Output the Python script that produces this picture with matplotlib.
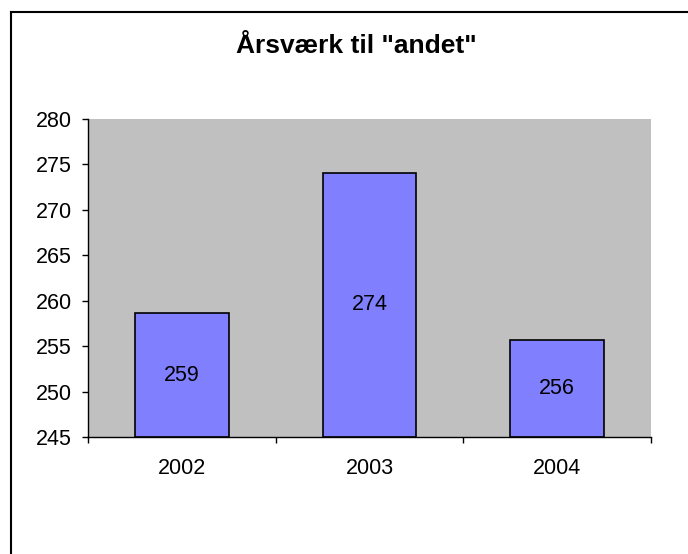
import matplotlib
matplotlib.use('Agg')
import matplotlib.pyplot as plt
from matplotlib.lines import Line2D

plt.rcParams['font.family'] = ['Liberation Sans', 'DejaVu Sans']

# data
years = ['2002', '2003', '2004']
values = [258.6, 274.1, 255.7]
labels = ['259', '274', '256']
title = 'Årsværk til "andet"'
y_min, y_max, y_step = 245, 280, 5

W, H = 688, 554
fig = plt.figure(figsize=(W / 100, H / 100), dpi=100)
fig.patch.set_facecolor('white')

# chart frame (runs off the right and bottom edge)
fx0 = 11 / W
fy1 = 1 - 12 / H
fig.add_artist(Line2D([fx0, 1.02], [fy1, fy1], color='black', lw=1.5, transform=fig.transFigure))
fig.add_artist(Line2D([fx0, fx0], [-0.02, fy1], color='black', lw=1.5, transform=fig.transFigure))

ax = fig.add_axes([88 / W, 1 - 437 / H, (651 - 88) / W, (437 - 119) / H])
ax.set_facecolor('#C0C0C0')

x = list(range(len(years)))
bars = ax.bar(x, [v - y_min for v in values], bottom=y_min, width=0.5,
              color='#8080FF', edgecolor='black', linewidth=1.2, zorder=2)
for xi, v, lab in zip(x, values, labels):
    ax.text(xi, (v + y_min) / 2, lab, ha='center', va='center', fontsize=15.5, zorder=3)

ax.set_xlim(-0.5, len(years) - 0.5)
ax.set_ylim(y_min, y_max)
ax.set_yticks(range(y_min, y_max + 1, y_step))
ax.set_xticks(x)
ax.set_xticklabels(years)
ax.set_xticks([i - 0.5 for i in range(len(years) + 1)], minor=True)

ax.tick_params(axis='y', direction='out', length=4.5, width=1, pad=7, labelsize=15.5)
ax.tick_params(axis='x', which='major', length=0, pad=15, labelsize=15.5)
ax.tick_params(axis='x', which='minor', direction='out', length=4.5, width=1)

for side in ('top', 'right'):
    ax.spines[side].set_visible(False)
ax.spines['left'].set_linewidth(1)
ax.spines['bottom'].set_linewidth(1)

fig.text(356 / W, 1 - 46 / H, title, ha='center', va='center',
         fontsize=19, fontweight='bold')

fig.savefig('out.png', dpi=100, facecolor='white')
